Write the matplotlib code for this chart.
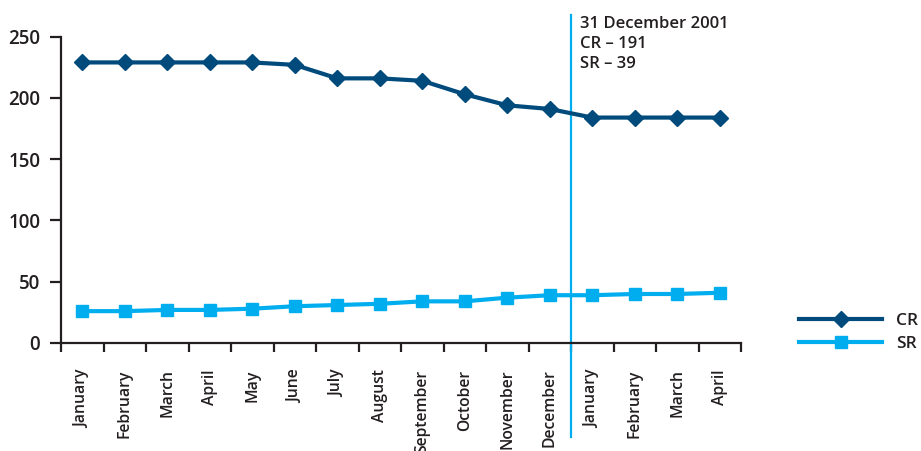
import matplotlib
matplotlib.use("Agg")
import matplotlib.pyplot as plt

plt.rcParams['font.family'] = ['Open Sans', 'DejaVu Sans']

months = ["January", "February", "March", "April", "May", "June", "July",
          "August", "September", "October", "November", "December",
          "January", "February", "March", "April"]
cr = [229, 229, 229, 229, 229, 227, 216, 216, 214, 203, 194, 191, 184, 184, 184, 184]
sr = [26, 26, 27, 27, 28, 30, 31, 32, 34, 34, 37, 39, 39, 40, 40, 41]
yticks = [0, 50, 100, 150, 200, 250]
marker_note = ["31 December 2001", "CR – 191", "SR – 39"]

cr_color = "#004a7c"
sr_color = "#00aeef"
text_color = "#231f20"

W, H = 921, 451
fig = plt.figure(figsize=(W / 100, H / 100), dpi=100)
ax = fig.add_axes([61 / W, 1 - 343 / H, (741 - 61) / W, (343 - 36.7) / H])

n = len(months)
xs = [i + 0.5 for i in range(n)]
ax.plot(xs, cr, color=cr_color, lw=3.0, marker="D", ms=8, label="CR",
        solid_joinstyle="round", clip_on=False, zorder=3)
ax.plot(xs, sr, color=sr_color, lw=3.0, marker="s", ms=8.5, label="SR",
        solid_joinstyle="round", clip_on=False, zorder=3)

ax.set_xlim(0, n)
ax.set_ylim(0, 250)
ax.set_yticks(yticks)
ax.set_xticks(range(n + 1))
ax.set_xticklabels([])
ax.set_xticks(xs, minor=True)
ax.set_xticklabels(months, minor=True, rotation=90, va="top", ha="center",
                   fontsize=11.3, fontweight="semibold", color=text_color)
ax.tick_params(axis="x", which="minor", length=0, pad=19)
ax.tick_params(axis="x", which="major", length=6.5, width=1.6, color=text_color, direction="out")
ax.tick_params(axis="y", length=8, width=1.6, color=text_color, direction="out",
               labelsize=13.5, labelcolor=text_color, pad=7)
for lab in ax.get_yticklabels():
    lab.set_fontweight("semibold")

for side in ("top", "right"):
    ax.spines[side].set_visible(False)
for side in ("left", "bottom"):
    ax.spines[side].set_linewidth(1.6)
    ax.spines[side].set_color(text_color)

# year-end divider and its note
ax.axvline(12, ymin=-0.308, ymax=1.071, color=sr_color, lw=1.6, clip_on=False, zorder=2)
ax.text(12.22, 266.5, "\n".join(marker_note), ha="left", va="top", fontsize=12,
        fontweight="semibold", color=text_color, linespacing=1.3)

leg = fig.legend(loc="upper left", bbox_to_anchor=(799 / W, 1 - 313 / H), frameon=False,
                 handlelength=4.8, handletextpad=0.8, labelspacing=0.4,
                 borderpad=0, borderaxespad=0, fontsize=12.5)
for t in leg.get_texts():
    t.set_fontweight("semibold")
    t.set_color(text_color)

fig.savefig("out.png", dpi=100)
